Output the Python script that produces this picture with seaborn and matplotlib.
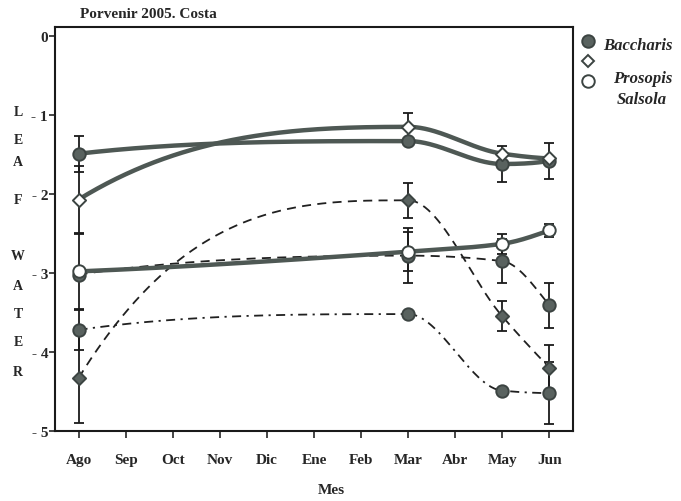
import numpy as np
import pandas as pd
import matplotlib
matplotlib.use("Agg")
import matplotlib.pyplot as plt
import seaborn as sns
from matplotlib.lines import Line2D

# months on the x axis, sampling campaigns at Ago, Mar, May, Jun
months = ['Ago', 'Sep', 'Oct', 'Nov', 'Dic', 'Ene', 'Feb', 'Mar', 'Abr', 'May', 'Jun']
sample_pos = [0, 7, 9, 10]

# leaf water potential (solid = predawn, dashed = midday)
bacc_pre = [-1.49, -1.33, -1.62, -1.58]
bacc_pre_err = [0.23, 0.0, 0.23, 0.23]
pros_pre = [-2.07, -1.15, -1.49, -1.55]
pros_pre_err = [0.42, 0.17, 0.0, 0.0]
sals_pre = [-2.98, -2.73, -2.63, -2.46]
sals_pre_err = [0.47, 0.25, 0.13, 0.08]

bacc_mid = [-3.72, -3.52, -4.49, -4.52]
bacc_mid_err = [0.25, 0.0, 0.0, 0.39]
pros_mid = [-4.33, -2.08, -3.55, -4.20]
pros_mid_err = [0.57, 0.22, 0.19, 0.29]
sals_mid = [-3.02, -2.78, -2.85, -3.41]
sals_mid_err = [0.0, 0.35, 0.28, 0.28]

species = ['Baccharis', 'Prosopis', 'Salsola']


def pchip(x, y, xs):
    # monotone cubic (Fritsch-Carlson) used only to draw the smooth curve
    x = np.asarray(x, float)
    y = np.asarray(y, float)
    h = np.diff(x)
    d = np.diff(y) / h
    n = len(x)
    m = np.zeros(n)
    for k in range(1, n - 1):
        if d[k - 1] * d[k] > 0:
            w1 = 2 * h[k] + h[k - 1]
            w2 = h[k] + 2 * h[k - 1]
            m[k] = (w1 + w2) / (w1 / d[k - 1] + w2 / d[k])

    def edge(h0, h1, d0, d1):
        mm = ((2 * h0 + h1) * d0 - h0 * d1) / (h0 + h1)
        if np.sign(mm) != np.sign(d0):
            mm = 0.0
        elif np.sign(d0) != np.sign(d1) and abs(mm) > abs(3 * d0):
            mm = 3 * d0
        return mm

    m[0] = edge(h[0], h[1], d[0], d[1])
    m[-1] = edge(h[-1], h[-2], d[-1], d[-2])
    idx = np.clip(np.searchsorted(x, xs) - 1, 0, n - 2)
    t = (xs - x[idx]) / h[idx]
    h00 = 2 * t**3 - 3 * t**2 + 1
    h10 = t**3 - 2 * t**2 + t
    h01 = -2 * t**3 + 3 * t**2
    h11 = t**3 - t**2
    return h00 * y[idx] + h10 * h[idx] * m[idx] + h01 * y[idx + 1] + h11 * h[idx] * m[idx + 1]


sns.set_style("ticks")
plt.rcParams['font.family'] = ['Liberation Serif', 'DejaVu Serif']
plt.rcParams['font.weight'] = 'bold'

fig = plt.figure(figsize=(6.81, 5.02), dpi=100)
ax = fig.add_axes([55 / 681, 1 - 432 / 502, 518 / 681, 404 / 502])

thick = '#4e5854'
mark = '#59625f'
dash_c = '#202020'

series = [
    # vals, errs, line style, lw, line color, marker, face, z
    (sals_mid, sals_mid_err, (0, (5, 3.5)), 1.3, dash_c, 'o', mark, 2),
    (bacc_mid, bacc_mid_err, (0, (5, 3, 1.2, 3)), 1.3, dash_c, 'o', mark, 2),
    (pros_mid, pros_mid_err, (0, (5, 3.5)), 1.3, dash_c, 'D', mark, 2),
    (bacc_pre, bacc_pre_err, '-', 3.2, thick, 'o', mark, 3),
    (pros_pre, pros_pre_err, '-', 3.2, thick, 'D', 'white', 3),
    (sals_pre, sals_pre_err, '-', 3.2, thick, 'o', 'white', 3),
]

xs = np.linspace(0, 10, 300)
for vals, errs, ls, lw, col, mk, face, z in series:
    curve = pd.DataFrame({'x': xs, 'y': pchip(sample_pos, vals, xs)})
    sns.lineplot(data=curve, x='x', y='y', ax=ax, color=col, linewidth=lw,
                 linestyle=ls, estimator=None, sort=False, legend=False, zorder=z)

for vals, errs, ls, lw, col, mk, face, z in series:
    pts = pd.DataFrame({'x': sample_pos, 'y': vals, 'e': errs})
    eb = pts[pts['e'] > 0]
    ax.errorbar(eb['x'], eb['y'], yerr=eb['e'], fmt='none', ecolor='#1a1a1a',
                elinewidth=1.3, capsize=3.5, capthick=1.3, zorder=4)

for vals, errs, ls, lw, col, mk, face, z in series:
    size = 80 if mk == 'o' else 45
    sns.scatterplot(x=sample_pos, y=vals, ax=ax, marker=mk, s=size, color=face,
                    edgecolor='#3c4442', linewidth=1.4, legend=False, zorder=5 + z)

ax.set_xlim(-0.5, 10.5)
ax.set_ylim(-5, 0.114)
ax.set_xticks(range(len(months)))
ax.set_xticklabels(months)
ax.set_yticks([0, -1, -2, -3, -4, -5])
ax.set_yticklabels(['0', '- 1', '- 2', '- 3', '- 4', '- 5'])
ax.set_xlabel('')
ax.set_ylabel('')
ax.tick_params(axis='x', direction='out', length=5, width=1.2, pad=11, labelsize=11)
ax.tick_params(axis='y', direction='out', length=4, width=1.2, pad=1, labelsize=11)
for s in ax.spines.values():
    s.set_linewidth(1.5)
    s.set_color('#1a1a1a')

fig.text(80 / 681, 1 - 14 / 502, 'Porvenir 2005. Costa', fontsize=11, fontweight='bold', va='center')
fig.text(331 / 681, 1 - 491 / 502, 'Mes', fontsize=11, fontweight='bold', ha='center', va='center')

letters = ['L', 'E', 'A', 'F', 'W', 'A', 'T', 'E', 'R']
letter_y = [112, 141, 163, 201, 257, 287, 315, 343, 373]
for ch, yy in zip(letters, letter_y):
    fig.text(18 / 681, 1 - yy / 502, ch, fontsize=10, fontweight='bold', ha='center', va='center')

# legend entries, placed where they sit in the scan
leg_marks = [('o', mark, 588, 42, 9), ('D', 'white', 588, 62, 6), ('o', 'white', 588, 82, 9)]
leg_text = [(603, 46), (613, 79), (617, 100)]
for (mk, face, px, py, ms), name, (tx, ty) in zip(leg_marks, species, leg_text):
    fig.add_artist(Line2D([px / 681], [1 - py / 502], marker=mk, markersize=ms,
                          markerfacecolor=face, markeredgecolor='#3c4442',
                          markeredgewidth=1.4, linestyle='none', transform=fig.transFigure))
    fig.text(tx / 681, 1 - ty / 502, name, fontsize=12, fontweight='bold',
             fontstyle='italic', va='center')

fig.savefig('out.png', dpi=100)
